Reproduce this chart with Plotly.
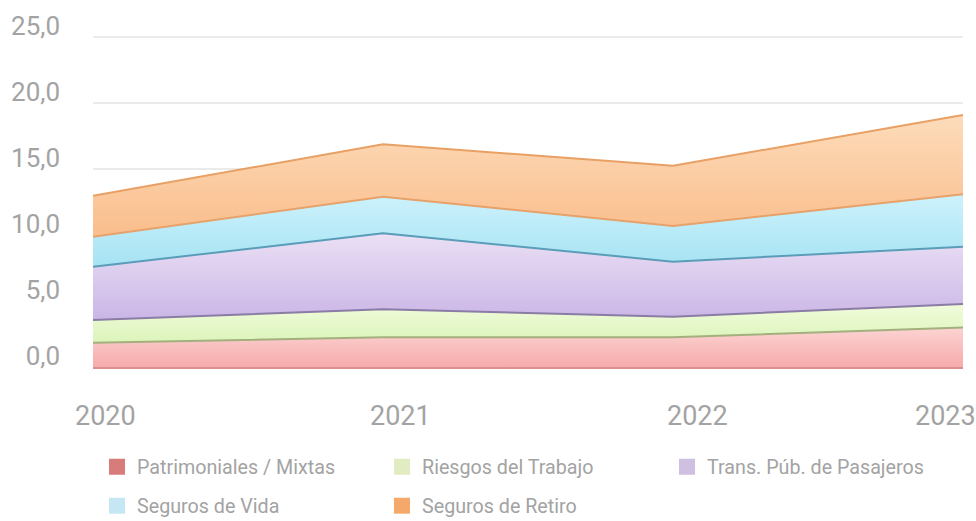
import plotly.graph_objects as go

# ---------------- data ----------------
years = [2020, 2021, 2022, 2023]
series_names = ["Patrimoniales / Mixtas", "Riesgos del Trabajo", "Trans. Púb. de Pasajeros",
                "Seguros de Vida", "Seguros de Retiro"]
patrimoniales = [1.84, 2.25, 2.25, 3.00]
riesgos = [1.72, 2.12, 1.56, 1.77]
trans_pub = [4.04, 5.76, 4.17, 4.34]
seguros_vida = [2.27, 2.77, 2.70, 3.97]
seguros_retiro = [3.11, 3.97, 4.57, 6.01]
y_ticks = [0, 5, 10, 15, 20, 25]

values = [patrimoniales, riesgos, trans_pub, seguros_vida, seguros_retiro]

# ---------------- style ----------------
fill_top = ["#fdd3d3", "#f1fcdc", "#ebe0f5", "#cdf2fc", "#fddcba"]
fill_bot = ["#f6abab", "#dbf4ba", "#cab6e6", "#a6e3f3", "#fabd8c"]
# line drawn on top edge of each band (colour of the band above it, as in the original)
line_cols = ["#a3b07e", "#8a7ca5", "#5a9db8", "#e6a26a", "#e8a064"]
legend_cols = ["#d87b7b", "#e2ecc3", "#cfbfe0", "#c5e6f3", "#f4a869"]
TXT = "#a3a3a3"
FONT = "Roboto"

fig = go.Figure()
for i, (name, vals) in enumerate(zip(series_names, values)):
    fig.add_trace(go.Scatter(
        x=years, y=vals, name=name, stackgroup="one", mode="lines",
        line=dict(color=line_cols[i], width=2),
        fillgradient=dict(type="vertical",
                          colorscale=[[0, fill_bot[i]], [1, fill_top[i]]]),
        showlegend=False, hoverinfo="x+y+name",
    ))

# legend entries (square swatches)
for i, name in enumerate(series_names):
    fig.add_trace(go.Scatter(
        x=[None], y=[None], mode="markers", name=name,
        marker=dict(symbol="square", size=16, color=legend_cols[i]),
        legend="legend" if i < 3 else "legend2",
    ))

# x tick labels as annotations (original labels are offset from the vertices)
xshift = [12, 17, 24, -18]
for yr, sh in zip(years, xshift):
    fig.add_annotation(x=yr, xref="x", y=0, yref="paper", text=str(yr),
                       showarrow=False, xanchor="center", yanchor="middle",
                       xshift=sh, yshift=-49,
                       font=dict(family=FONT, size=27, color=TXT))

legend_common = dict(orientation="h", x=0.0046, xanchor="left", yanchor="middle",
                     font=dict(family=FONT, size=19.7, color=TXT), traceorder="normal",
                     entrywidth=240, entrywidthmode="pixels", bgcolor="rgba(0,0,0,0)")

fig.update_layout(
    width=976, height=521,
    margin=dict(l=93, r=13, t=34, b=154, autoexpand=False),
    paper_bgcolor="white", plot_bgcolor="white",
    separators=",.",
    font=dict(family=FONT, color=TXT),
    xaxis=dict(range=[2020, 2023], showticklabels=False, showgrid=False,
               zeroline=False, showline=True, linecolor="#dc8f8f", linewidth=2,
               ticks="", automargin=False),
    yaxis=dict(range=[0, 25.227], tickvals=y_ticks, tickformat=".1f",
               showgrid=True, gridcolor="#ebebeb", gridwidth=1.5,
               zeroline=False, showline=False, ticks="", automargin=False,
               ticklabelstandoff=32, ticklabelshift=-11,
               tickfont=dict(family=FONT, size=26, color=TXT)),
    legend=dict(y=-0.3, **legend_common),
    legend2=dict(y=-0.417, **legend_common),
)

fig.write_html("out.html", config={"displayModeBar": False},
               post_script="document.body.style.margin='0';")
